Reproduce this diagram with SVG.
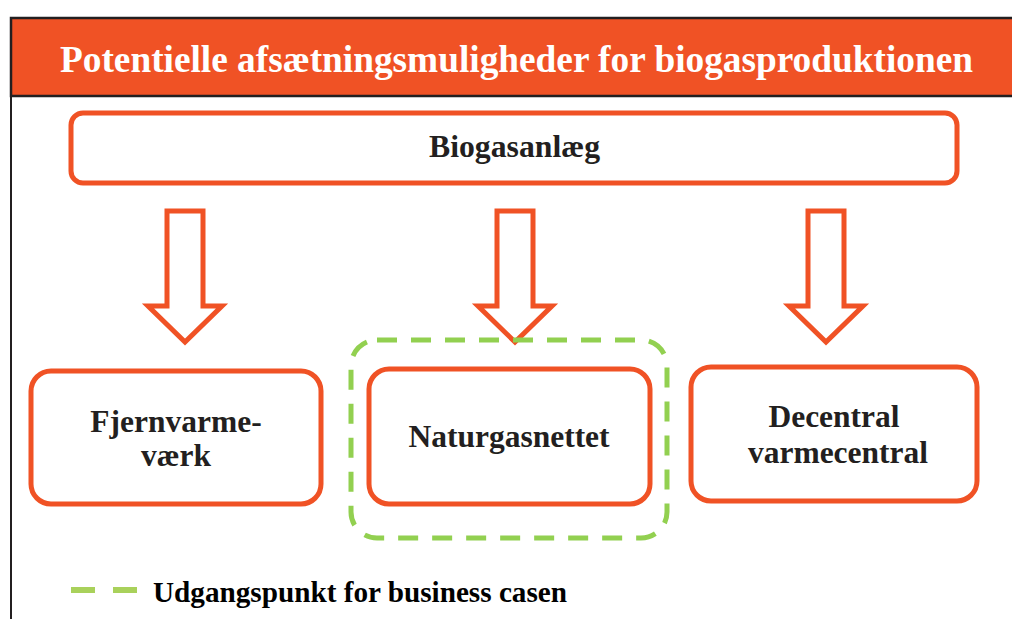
<svg xmlns="http://www.w3.org/2000/svg" width="1012" height="619" viewBox="0 0 1012 619">
<style>
.box{fill:#fff;stroke:#F05225;stroke-width:5}
.arr{fill:#fff;stroke:#F05225;stroke-width:5;stroke-linejoin:miter}
.t{font-family:"Liberation Serif",serif;font-weight:bold;fill:#231F20;text-anchor:middle;font-size:31.5px}
</style>
<rect width="1012" height="619" fill="#fff"/>
<g id="frame">
<rect x="11" y="18" width="1020" height="78" fill="#F05225" stroke="#231F20" stroke-width="2.5"/>
<line x1="11" y1="96" x2="11" y2="619" stroke="#231F20" stroke-width="2"/>
<text x="516.5" y="72" font-family="Liberation Serif,serif" font-weight="bold" font-size="37.5" fill="#fff" text-anchor="middle" textLength="913" lengthAdjust="spacingAndGlyphs">Potentielle afsætningsmuligheder for biogasproduktionen</text>
</g>
<g id="biogasanlaeg">
<rect class="box" x="71" y="113" width="886" height="70" rx="12"/>
<text class="t" x="514.5" y="157" textLength="171" lengthAdjust="spacingAndGlyphs">Biogasanlæg</text>
</g>
<g id="connectors">
<path class="arr" d="M167,211 H203 V306 H222 L185,342 L148,306 H167 Z"/>
<path class="arr" d="M497,211 H533 V306 H552 L515,342 L478,306 H497 Z"/>
<path class="arr" d="M808,211 H844 V306 H863 L826,342 L789,306 H808 Z"/>
</g>
<g id="highlight">
<rect x="351" y="340" width="316" height="198" rx="26" fill="none" stroke="#92D050" stroke-width="5" stroke-dasharray="20,14"/>
</g>
<g id="fjernvarme">
<rect class="box" x="31" y="371" width="290" height="133" rx="20"/>
<text class="t" x="176" y="432">Fjernvarme-</text>
<text class="t" x="176" y="466">værk</text>
</g>
<g id="naturgas">
<rect class="box" x="369" y="369" width="281" height="135" rx="20"/>
<text class="t" x="509" y="447">Naturgasnettet</text>
</g>
<g id="decentral">
<rect class="box" x="691" y="367" width="286" height="134" rx="20"/>
<text class="t" x="834" y="427">Decentral</text>
<text class="t" x="838" y="463">varmecentral</text>
</g>
<g id="legend">
<line x1="71" y1="590" x2="137" y2="590" stroke="#A9D15B" stroke-width="6" stroke-dasharray="24,18"/>
<text x="153" y="602" font-family="Liberation Serif,serif" font-weight="bold" font-size="29" fill="#000" textLength="414" lengthAdjust="spacingAndGlyphs">Udgangspunkt for business casen</text>
</g>
</svg>
